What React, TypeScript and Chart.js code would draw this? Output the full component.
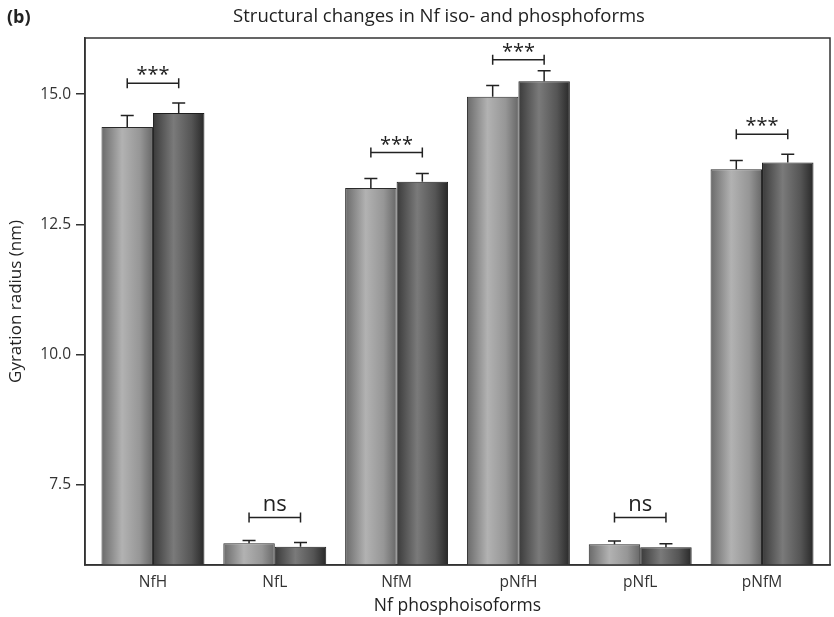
import React, { useEffect, useRef } from "react";
import { Chart, registerables } from "chart.js";

Chart.register(...registerables);

const categories = ["NfH", "NfL", "NfM", "pNfH", "pNfL", "pNfM"];
const seriesA = [14.37, 6.38, 13.20, 14.95, 6.36, 13.56];
const seriesB = [14.64, 6.31, 13.32, 15.25, 6.30, 13.69];
const errA = [0.22, 0.05, 0.18, 0.22, 0.06, 0.17];
const errB = [0.19, 0.08, 0.16, 0.20, 0.07, 0.16];
const sigLabels = ["***", "ns", "***", "***", "ns", "***"];
const sigLevels = [15.21, 6.87, 13.88, 15.66, 6.87, 14.23];
const yTicks = [7.5, 10.0, 12.5, 15.0];

const FONT = "'Open Sans', 'Noto Sans', sans-serif";
const CAT_PCT = 0.845;

function makeGradient(ctx: any, which: number) {
  const chart = ctx.chart;
  const xs = chart.scales.x;
  const c2d = chart.ctx;
  const fallback = which === 0 ? "#999" : "#555";
  if (!xs || xs.left === undefined) return fallback;
  const i = ctx.dataIndex ?? 0;
  const center = xs.getPixelForValue(i);
  const catW = Math.abs(xs.getPixelForValue(1) - xs.getPixelForValue(0));
  const half = (catW * CAT_PCT) / 2;
  const x0 = which === 0 ? center - half : center;
  const x1 = x0 + half;
  if (!isFinite(x0) || !isFinite(x1) || x1 <= x0) return fallback;
  const g = c2d.createLinearGradient(x0, 0, x1, 0);
  if (which === 0) {
    g.addColorStop(0, "#6a6a6a");
    g.addColorStop(0.4, "#b2b2b2");
    g.addColorStop(0.75, "#969696");
    g.addColorStop(1, "#686868");
  } else {
    g.addColorStop(0, "#3a3a3a");
    g.addColorStop(0.4, "#7a7a7a");
    g.addColorStop(0.75, "#555555");
    g.addColorStop(1, "#282828");
  }
  return g;
}

const overlayPlugin = {
  id: "overlay",
  afterDatasetsDraw(chart: any) {
    const { ctx, chartArea, scales } = chart;
    const ys = scales.y;
    ctx.save();
    // error bars
    [errA, errB].forEach((errs, di) => {
      const meta = chart.getDatasetMeta(di);
      const vals = di === 0 ? seriesA : seriesB;
      meta.data.forEach((bar: any, i: number) => {
        const x = bar.x;
        const yTop = ys.getPixelForValue(vals[i]);
        const yErr = ys.getPixelForValue(vals[i] + errs[i]);
        ctx.strokeStyle = "#222";
        ctx.lineWidth = 1.5;
        ctx.beginPath();
        ctx.moveTo(x, yTop);
        ctx.lineTo(x, yErr);
        ctx.moveTo(x - 6.5, yErr);
        ctx.lineTo(x + 6.5, yErr);
        ctx.stroke();
      });
    });
    // significance brackets
    const m0 = chart.getDatasetMeta(0);
    const m1 = chart.getDatasetMeta(1);
    categories.forEach((_, i) => {
      const xa = m0.data[i].x;
      const xb = m1.data[i].x;
      const y = ys.getPixelForValue(sigLevels[i]);
      ctx.strokeStyle = "#222";
      ctx.lineWidth = 1.5;
      ctx.beginPath();
      ctx.moveTo(xa, y);
      ctx.lineTo(xb, y);
      ctx.moveTo(xa, y - 5);
      ctx.lineTo(xa, y + 5);
      ctx.moveTo(xb, y - 5);
      ctx.lineTo(xb, y + 5);
      ctx.stroke();
      ctx.fillStyle = "#222";
      ctx.textAlign = "center";
      ctx.textBaseline = "alphabetic";
      if (sigLabels[i] === "ns") {
        ctx.font = `22px ${FONT}`;
        ctx.fillText("ns", (xa + xb) / 2, y - 7);
      } else {
        ctx.font = `20px ${FONT}`;
        ctx.fillText(sigLabels[i], (xa + xb) / 2, y - 2);
      }
    });
    // box
    ctx.strokeStyle = "#333";
    ctx.lineWidth = 1.5;
    ctx.strokeRect(chartArea.left, chartArea.top, chartArea.right - chartArea.left, chartArea.bottom - chartArea.top);
    // title
    ctx.fillStyle = "#222";
    ctx.font = `18.5px ${FONT}`;
    ctx.textAlign = "center";
    ctx.textBaseline = "middle";
    ctx.fillText("Structural changes in Nf iso- and phosphoforms", 439, 17);
    ctx.font = `bold 18px ${FONT}`;
    ctx.textAlign = "left";
    ctx.fillText("(b)", 7, 18);
    ctx.restore();
  },
};

export default function App() {
  const ref = useRef<HTMLCanvasElement>(null);
  useEffect(() => {
    if (!ref.current) return;
    const chart = new Chart(ref.current, {
      type: "bar",
      data: {
        datasets: [
          {
            label: "A",
            data: seriesA.map((v, i) => ({ x: i, y: v })),
            backgroundColor: (ctx: any) => makeGradient(ctx, 0),
            borderColor: "#2a2a2a",
            borderWidth: 1,
            categoryPercentage: CAT_PCT,
            barPercentage: 1,
          },
          {
            label: "B",
            data: seriesB.map((v, i) => ({ x: i, y: v })),
            backgroundColor: (ctx: any) => makeGradient(ctx, 1),
            borderColor: "#1e1e1e",
            borderWidth: 1,
            categoryPercentage: CAT_PCT,
            barPercentage: 1,
          },
        ],
      },
      options: {
        animation: false,
        responsive: false,
        maintainAspectRatio: false,
        layout: { padding: { top: 38, right: 4, left: 0, bottom: 0 } },
        plugins: {
          legend: { display: false },
          title: { display: false },
          tooltip: { enabled: false },
        },
        scales: {
          x: {
            type: "linear",
            min: -0.558,
            max: 5.558,
            offset: false,
            afterBuildTicks: (s: any) => {
              s.ticks = categories.map((_, i) => ({ value: i }));
            },
            grid: { display: false, drawTicks: false },
            border: { display: true, color: "#333", width: 1.5 },
            ticks: {
              color: "#333",
              font: { family: FONT, size: 15.5 },
              padding: 8,
              autoSkip: false,
              maxRotation: 0,
              callback: (v: any) => categories[Math.round(Number(v))] ?? "",
            },
            title: {
              display: true,
              text: "Nf phosphoisoforms",
              color: "#222",
              font: { family: FONT, size: 17.5 },
              padding: { top: 0, bottom: 0 },
            },
            afterFit: (s: any) => {
              s.height = 52;
            },
          },
          y: {
            min: 5.96,
            max: 16.08,
            afterBuildTicks: (s: any) => {
              s.ticks = yTicks.map((v) => ({ value: v }));
            },
            grid: { display: true, drawOnChartArea: false, drawTicks: true, tickLength: 9, color: "#333", lineWidth: 1.5 },
            border: { display: true, color: "#333", width: 1.5 },
            ticks: {
              color: "#333",
              font: { family: FONT, size: 15.5 },
              padding: 5,
              callback: (v: any) => Number(v).toFixed(1),
            },
            title: {
              display: true,
              text: "Gyration radius (nm)",
              color: "#222",
              font: { family: FONT, size: 17 },
              padding: { top: 6, bottom: 0 },
            },
            afterFit: (s: any) => {
              s.width = 85;
            },
          },
        },
      },
      plugins: [overlayPlugin],
    });
    return () => chart.destroy();
  }, []);
  return (
    <div style={{ position: "fixed", left: 0, top: 0, width: 834, height: 617, background: "#fff" }}>
      <canvas ref={ref} width={834} height={617} style={{ width: 834, height: 617 }} />
    </div>
  );
}
